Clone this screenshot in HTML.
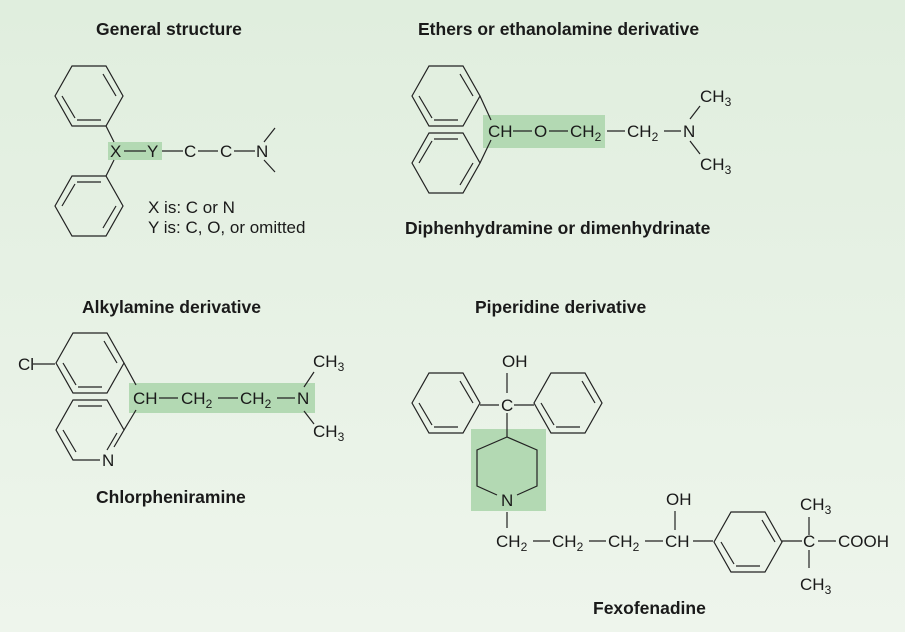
<!DOCTYPE html>
<html><head><meta charset="utf-8"><style>
html,body{margin:0;padding:0}
body{width:905px;height:632px;overflow:hidden;background:linear-gradient(#e0eede,#eef5ec)}
svg{display:block}
text{font-family:"Liberation Sans",sans-serif;font-size:17px;fill:#1a1a1a}
.b{font-weight:bold;font-size:17.5px}
line,polygon,polyline{stroke:#222;stroke-width:1.2;fill:none}
.h{fill:#b3d9b3;stroke:none}
</style></head><body>
<svg width="905" height="632" viewBox="0 0 905 632">
<defs>
<g id="benz">
<polygon points="-34,0 -17,-30 17,-30 34,0 17,30 -17,30"/>
<line x1="-12" y1="-24" x2="12" y2="-24"/>
<line x1="-27" y1="0" x2="-14" y2="-22"/>
<line x1="14" y1="22" x2="27" y2="0"/>
</g>
<g id="benz2">
<polygon points="-34,0 -17,-30 17,-30 34,0 17,30 -17,30"/>
<line x1="-12" y1="24" x2="12" y2="24"/>
<line x1="-27" y1="0" x2="-14" y2="22"/>
<line x1="14" y1="-22" x2="27" y2="0"/>
</g>
</defs>

<text class="b" x="96" y="35">General structure</text>
<text class="b" x="418" y="35">Ethers or ethanolamine derivative</text>
<text class="b" x="405" y="234">Diphenhydramine or dimenhydrinate</text>
<text class="b" x="82" y="313">Alkylamine derivative</text>
<text class="b" x="475" y="313">Piperidine derivative</text>
<text class="b" x="96" y="503">Chlorpheniramine</text>
<text class="b" x="593" y="614">Fexofenadine</text>

<!-- General structure -->
<rect class="h" x="108" y="142" width="54" height="18"/>
<use href="#benz2" x="89" y="96"/>
<use href="#benz" x="89" y="206"/>
<line x1="106" y1="126" x2="114" y2="142"/>
<line x1="106" y1="176" x2="114" y2="160"/>
<text x="110" y="157">X</text><line x1="124" y1="151" x2="146" y2="151"/>
<text x="147" y="157">Y</text><line x1="162" y1="151" x2="183" y2="151"/>
<text x="184" y="157">C</text><line x1="198" y1="151" x2="218" y2="151"/>
<text x="220" y="157">C</text><line x1="234" y1="151" x2="255" y2="151"/>
<text x="256" y="157">N</text>
<line x1="264" y1="142" x2="275" y2="128"/>
<line x1="264" y1="160" x2="275" y2="172"/>
<text x="148" y="213">X is: C or N</text>
<text x="148" y="233">Y is: C, O, or omitted</text>

<!-- Ethers -->
<rect class="h" x="483" y="115" width="122" height="33"/>
<use href="#benz2" x="446" y="96"/>
<use href="#benz" x="446" y="163"/>
<line x1="480" y1="96" x2="491" y2="120"/>
<line x1="480" y1="163" x2="491" y2="140"/>
<text x="488" y="137">CH</text><line x1="513" y1="131" x2="532" y2="131"/>
<text x="534" y="137">O</text><line x1="549" y1="131" x2="568" y2="131"/>
<text x="570" y="137">CH<tspan font-size="12" dy="4">2</tspan></text><line x1="607" y1="131" x2="625" y2="131"/>
<text x="627" y="137">CH<tspan font-size="12" dy="4">2</tspan></text><line x1="664" y1="131" x2="681" y2="131"/>
<text x="683" y="137">N</text>
<line x1="690" y1="119" x2="700" y2="106"/>
<line x1="690" y1="141" x2="700" y2="154"/>
<text x="700" y="102">CH<tspan font-size="12" dy="4">3</tspan></text>
<text x="700" y="170">CH<tspan font-size="12" dy="4">3</tspan></text>

<!-- Alkylamine -->
<rect class="h" x="129" y="383" width="186" height="30"/>
<use href="#benz2" x="90" y="363"/>
<g transform="translate(90,430)">
<polyline points="10,30 -17,30 -34,0 -17,-30 17,-30 34,0 24,17"/>
<line x1="-12" y1="-24" x2="12" y2="-24"/>
<line x1="-27" y1="0" x2="-14" y2="22"/>
<line x1="27" y1="3" x2="17" y2="20"/>
</g>
<text x="102" y="466">N</text>
<text x="18" y="370">Cl</text><line x1="33" y1="364" x2="55" y2="364"/>
<line x1="124" y1="363" x2="136" y2="385"/>
<line x1="124" y1="430" x2="136" y2="410"/>
<text x="133" y="404">CH</text><line x1="159" y1="398" x2="178" y2="398"/>
<text x="181" y="404">CH<tspan font-size="12" dy="4">2</tspan></text><line x1="218" y1="398" x2="238" y2="398"/>
<text x="240" y="404">CH<tspan font-size="12" dy="4">2</tspan></text><line x1="277" y1="398" x2="295" y2="398"/>
<text x="297" y="404">N</text>
<line x1="304" y1="387" x2="314" y2="372"/>
<line x1="304" y1="411" x2="314" y2="424"/>
<text x="313" y="367">CH<tspan font-size="12" dy="4">3</tspan></text>
<text x="313" y="437">CH<tspan font-size="12" dy="4">3</tspan></text>

<!-- Piperidine / fexofenadine -->
<rect class="h" x="471" y="429" width="75" height="82"/>
<use href="#benz2" x="446" y="403"/>
<use href="#benz2" x="568" y="403"/>
<text x="502" y="367">OH</text>
<line x1="507" y1="373" x2="507" y2="393"/>
<text x="501" y="411">C</text>
<line x1="480" y1="405" x2="499" y2="405"/>
<line x1="514" y1="405" x2="534" y2="405"/>
<line x1="507" y1="413" x2="507" y2="437"/>
<polyline points="497,495 477,486 477,450 507,437 537,450 537,486 517,495"/>
<text x="501" y="506">N</text>
<line x1="507" y1="512" x2="507" y2="528"/>
<text x="496" y="547">CH<tspan font-size="12" dy="4">2</tspan></text><line x1="533" y1="541" x2="550" y2="541"/>
<text x="552" y="547">CH<tspan font-size="12" dy="4">2</tspan></text><line x1="589" y1="541" x2="606" y2="541"/>
<text x="608" y="547">CH<tspan font-size="12" dy="4">2</tspan></text><line x1="645" y1="541" x2="663" y2="541"/>
<text x="665" y="547">CH</text>
<text x="666" y="505">OH</text>
<line x1="675" y1="511" x2="675" y2="530"/>
<line x1="693" y1="541" x2="713" y2="541"/>
<use href="#benz2" x="748" y="542"/>
<line x1="782" y1="541" x2="802" y2="541"/>
<text x="803" y="547">C</text>
<line x1="818" y1="541" x2="836" y2="541"/>
<text x="838" y="547">COOH</text>
<line x1="809" y1="517" x2="809" y2="535"/>
<line x1="809" y1="550" x2="809" y2="568"/>
<text x="800" y="510">CH<tspan font-size="12" dy="4">3</tspan></text>
<text x="800" y="590">CH<tspan font-size="12" dy="4">3</tspan></text>
</svg>
</body></html>
